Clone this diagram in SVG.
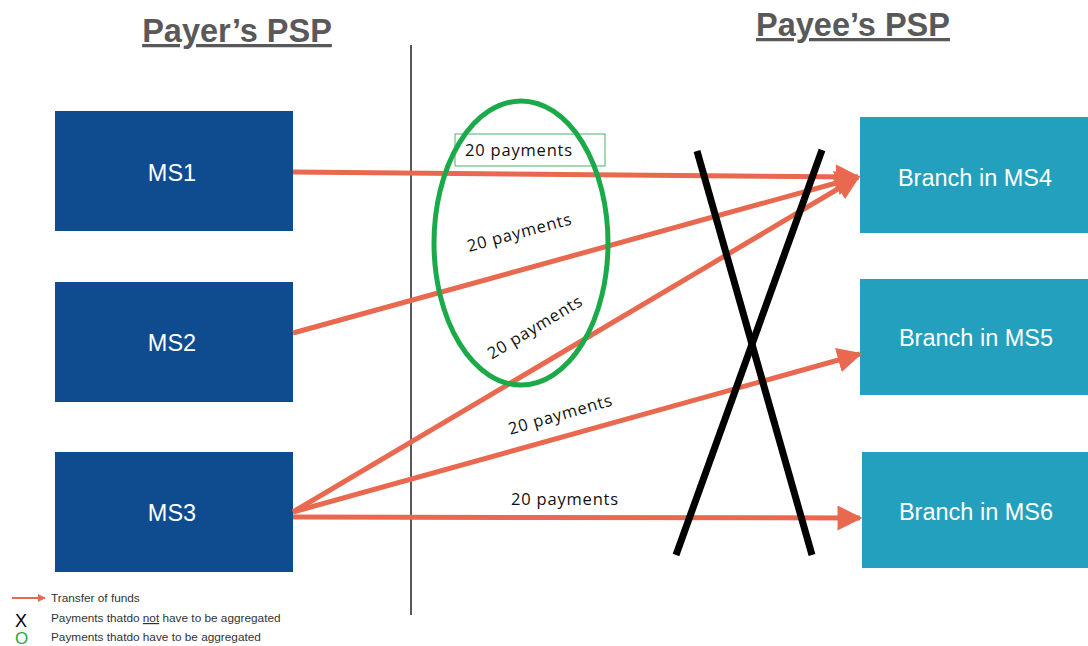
<svg xmlns="http://www.w3.org/2000/svg" width="1088" height="646" viewBox="0 0 1088 646">
<defs>
<marker id="ah" viewBox="0 0 10 10" refX="9" refY="5" markerWidth="5" markerHeight="5.2" markerUnits="strokeWidth" orient="auto">
<path d="M0,0 L10,5 L0,10 Z" fill="#e8694f"/>
</marker>
<marker id="ahs" viewBox="0 0 10 10" refX="9" refY="5" markerWidth="4" markerHeight="4" markerUnits="strokeWidth" orient="auto">
<path d="M0,0 L10,5 L0,10 Z" fill="#e8694f"/>
</marker>
</defs>
<style>
.title{font-family:"Liberation Sans",Arial,sans-serif;font-weight:bold;font-size:32.5px;fill:#595959;text-anchor:middle;text-decoration:underline}
.ms{fill:#0f4c8f}
.br{fill:#22a0be}
.bt{font-family:"Liberation Sans",Arial,sans-serif;font-size:23.5px;fill:#fff;text-anchor:middle;dominant-baseline:central}
.arr{stroke:#e8694f;stroke-width:5;fill:none;marker-end:url(#ah)}
.lbl{font-family:"Open Sans","Noto Sans",sans-serif;font-size:16.5px;fill:#111;text-anchor:middle;letter-spacing:0.8px}
.lg{font-family:"Liberation Sans",Arial,sans-serif;font-size:11.8px;fill:#333}
</style>
<rect width="1088" height="646" fill="#fff"/>
<g id="titles">
<text class="title" x="237" y="42">Payer’s PSP</text>
<text class="title" x="853" y="36">Payee’s PSP</text>
</g>
<line x1="411" y1="45" x2="411" y2="615" stroke="#595959" stroke-width="2"/>
<g id="ms1"><rect class="ms" x="55" y="111" width="238" height="120"/><text class="bt" x="172" y="173">MS1</text></g>
<g id="ms2"><rect class="ms" x="55" y="282" width="238" height="120"/><text class="bt" x="172" y="343">MS2</text></g>
<g id="ms3"><rect class="ms" x="55" y="452" width="238" height="120"/><text class="bt" x="172" y="513">MS3</text></g>
<g id="ms4"><rect class="br" x="860" y="117" width="228" height="116"/><text class="bt" x="975" y="178">Branch in MS4</text></g>
<g id="ms5"><rect class="br" x="860" y="279" width="228" height="116"/><text class="bt" x="976" y="338">Branch in MS5</text></g>
<g id="ms6"><rect class="br" x="862" y="452" width="226" height="116"/><text class="bt" x="976" y="512">Branch in MS6</text></g>
<g id="connectors">
<line class="arr" x1="293" y1="172" x2="858" y2="177"/>
<line class="arr" x1="293" y1="333" x2="858" y2="177"/>
<line class="arr" x1="293" y1="512" x2="858" y2="177"/>
<line class="arr" x1="293" y1="512" x2="860" y2="354"/>
<line class="arr" x1="293" y1="517" x2="860" y2="518"/>
</g>
<g id="labels">
<rect x="455" y="134" width="150" height="32" fill="none" stroke="#4caf6a" stroke-width="1"/>
<text class="lbl" x="519" y="156">20 payments</text>
<text class="lbl" transform="translate(521,238) rotate(-15)">20 payments</text>
<text class="lbl" transform="translate(538,332) rotate(-31)">20 payments</text>
<text class="lbl" transform="translate(562,420) rotate(-16)">20 payments</text>
<text class="lbl" x="565" y="505">20 payments</text>
</g>
<g id="aggregated">
<ellipse cx="521" cy="243" rx="87" ry="142" fill="none" stroke="#1aaa4a" stroke-width="5"/>
</g>
<g id="not-aggregated">
<line x1="697" y1="151" x2="812" y2="555" stroke="#000" stroke-width="7"/>
<line x1="822" y1="150" x2="676" y2="555" stroke="#000" stroke-width="7"/>
</g>
<g id="legend">
<line x1="12" y1="598" x2="45" y2="598" stroke="#e8694f" stroke-width="2" marker-end="url(#ahs)"/>
<text class="lg" x="51" y="602">Transfer of funds</text>
<text x="15" y="627" font-family="Liberation Sans,Arial,sans-serif" font-size="18" fill="#000">X</text>
<text class="lg" x="51" y="622">Payments thatdo <tspan text-decoration="underline">not</tspan> have to be aggregated</text>
<text x="15" y="644" font-family="Liberation Sans,Arial,sans-serif" font-size="17" fill="#1aaa4a">O</text>
<text class="lg" x="51" y="641">Payments thatdo have to be aggregated</text>
</g>
</svg>
